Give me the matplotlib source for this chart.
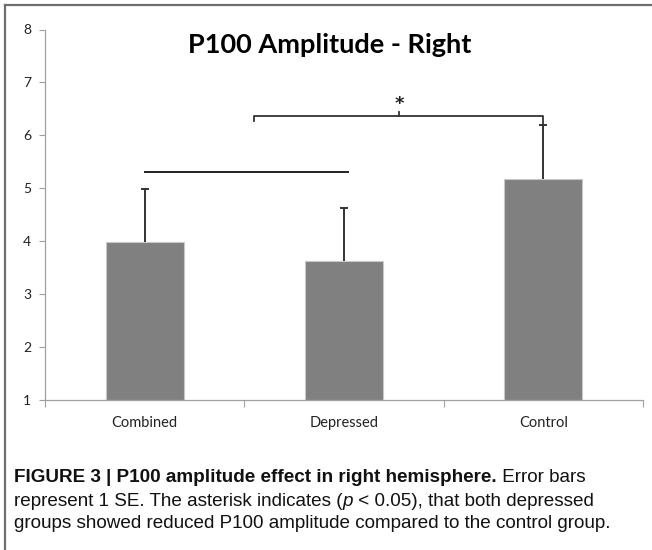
import matplotlib
matplotlib.use("Agg")
import matplotlib.pyplot as plt
from matplotlib.lines import Line2D

# data
groups = ["Combined", "Depressed", "Control"]
means = [3.98, 3.63, 5.17]
se = [1.00, 1.00, 1.02]
yticks = [1, 2, 3, 4, 5, 6, 7, 8]

W, H = 652, 550
fig = plt.figure(figsize=(W / 100, H / 100), dpi=100)
ax = fig.add_axes([45 / W, 1 - 400 / H, (643 - 45) / W, (400 - 29.5) / H])

chart_font = ["Lato", "DejaVu Sans"]
cap_font = ["Liberation Sans", "DejaVu Sans"]

x = list(range(len(groups)))
ax.bar(x, [m - 1 for m in means], bottom=1, width=0.39, color="#808080",
       edgecolor="#c8c8c8", linewidth=0.8, zorder=2)
eb = ax.errorbar(x, means, yerr=[[0] * 3, se], fmt="none", ecolor="#333333",
                 elinewidth=1.4, capsize=3, capthick=1.4, zorder=3)
eb[1][0].set_visible(False)  # no cap at the bar top

ax.set_xlim(-0.5, 2.5)
ax.set_ylim(1, 8)
ax.set_yticks(yticks)
ax.set_yticklabels([str(t) for t in yticks], fontsize=10, family=chart_font,
                   color="#222222")
ax.set_xticks([-0.5, 0.5, 1.5, 2.5])
ax.set_xticklabels([])
ax.tick_params(axis="y", length=4, width=0.8, color="#a0a0a0", pad=6)
ax.tick_params(axis="x", length=5, width=0.8, color="#a0a0a0")
for i, g in enumerate(groups):
    ax.text(i, -0.043, g, transform=ax.get_xaxis_transform(), ha="center",
            va="top", fontsize=10.5, family=chart_font, color="#222222")
for s in ["top", "right"]:
    ax.spines[s].set_visible(False)
for s in ["left", "bottom"]:
    ax.spines[s].set_color("#a0a0a0")
    ax.spines[s].set_linewidth(0.9)

# comparison lines
ax.plot([0, 1.02], [5.30, 5.30], color="#222222", lw=1.4, zorder=3)
ax.plot([0.55, 0.55, 2.0, 2.0], [6.27, 6.36, 6.36, 6.19], color="#333333",
        lw=1.3, zorder=3)
ax.plot([1.276, 1.276], [6.36, 6.44], color="#333333", lw=1.3)
ax.text(1.276, 6.60, "*", ha="center", va="center", fontsize=13,
        fontweight="bold", family="DejaVu Sans", color="#222222")

fig.text(330 / W, 1 - 45 / H, "P100 Amplitude - Right", ha="center",
         va="center", fontsize=19.5, fontweight="bold", family=chart_font)

# frame
fig.add_artist(Line2D([5 / W, 1], [1 - 5 / H, 1 - 5 / H], color="#6e6e6e",
                      lw=1.6, transform=fig.transFigure))
fig.add_artist(Line2D([5 / W, 5 / W], [0, 1 - 5 / H], color="#6e6e6e",
                      lw=1.6, transform=fig.transFigure))

# caption, drawn piece by piece
renderer = fig.canvas.get_renderer()


def caption_line(y, parts):
    xpos = 14 / W
    for txt, weight, style in parts:
        t = fig.text(xpos, 1 - y / H, txt, ha="left", va="center",
                     fontsize=13.6, fontweight=weight, style=style,
                     family=cap_font, color="#111111")
        bb = t.get_window_extent(renderer)
        xpos = bb.x1 / W


caption_line(478, [("FIGURE 3 | P100 amplitude effect in right hemisphere.", "bold", "normal"),
                   (" Error bars", "normal", "normal")])
caption_line(501, [("represent 1 SE. The asterisk indicates (", "normal", "normal"),
                   ("p", "normal", "italic"),
                   (" < 0.05), that both depressed", "normal", "normal")])
caption_line(523, [("groups showed reduced P100 amplitude compared to the control group.",
                    "normal", "normal")])

fig.savefig("out.png", dpi=100)
